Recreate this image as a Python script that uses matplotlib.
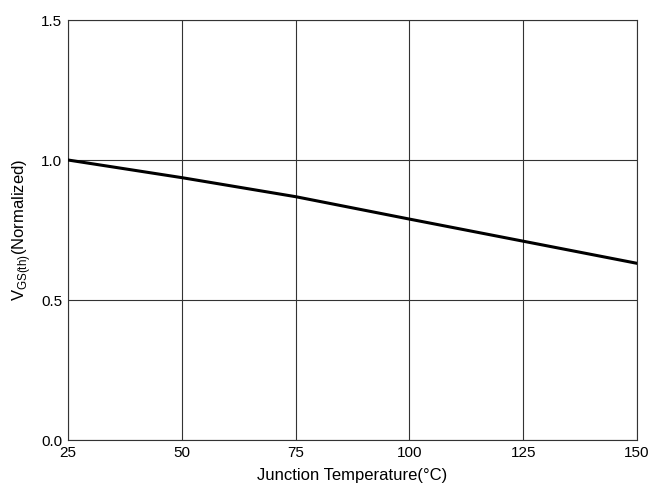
import matplotlib
matplotlib.use("Agg")
import matplotlib.pyplot as plt

plt.rcParams['font.family'] = ['Liberation Sans', 'DejaVu Sans']

# junction temperature (deg C) and normalized threshold voltage
temps = [25, 50, 75, 100, 125, 150]
vgs_norm = [1.0, 0.937, 0.869, 0.789, 0.710, 0.631]

x_ticks = [25, 50, 75, 100, 125, 150]
y_ticks = [0.0, 0.5, 1.0, 1.5]

fig = plt.figure(figsize=(6.68, 4.98), dpi=100)
ax = fig.add_axes([68 / 668, 58 / 498, 569 / 668, 420 / 498])

ax.plot(temps, vgs_norm, color='black', linewidth=2.2, zorder=3)

ax.set_xlim(25, 150)
ax.set_ylim(0, 1.5)
ax.set_xticks(x_ticks)
ax.set_yticks(y_ticks)
ax.set_yticklabels(["0.0", "0.5", "1.0", "1.5"])
ax.grid(True, color='#333333', linewidth=0.8)
ax.tick_params(length=0, labelsize=11, pad=4)
for s in ax.spines.values():
    s.set_color('#333333')
    s.set_linewidth(0.8)

ax.set_xlabel("Junction Temperature(°C)", fontsize=12, labelpad=6)
ax.set_ylabel(r"V$_{\mathregular{GS(th)}}$(Normalized)", fontsize=12, labelpad=6)

fig.savefig("out.png", dpi=100)
